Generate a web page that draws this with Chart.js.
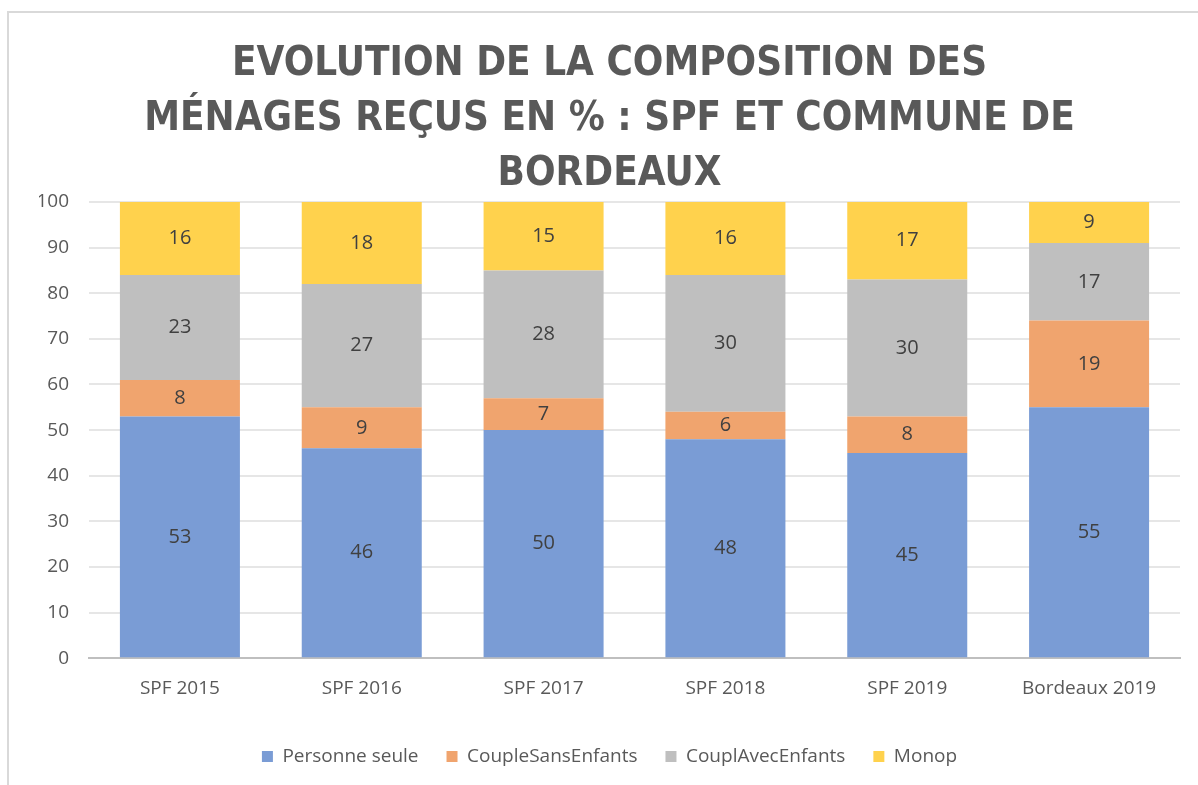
<!DOCTYPE html>
<html>
<head>
<meta charset="utf-8">
<script src="https://cdn.jsdelivr.net/npm/chart.js@4"></script>
<style>
    body { margin: 0; background: #fff; }
    #frame {
        position: absolute; left: 7px; top: 11px;
        width: 1191px; height: 774px;
        border-left: 2px solid #d9d9d9; border-top: 2px solid #d9d9d9;
        box-sizing: border-box;
    }
    #chart-box { position: absolute; left: 9px; top: 13px; width: 1189px; height: 772px; }
</style>
</head>
<body>
<div id="frame"></div>
<div id="chart-box"><canvas id="chart"></canvas></div>
<script>
const categories = ['SPF 2015', 'SPF 2016', 'SPF 2017', 'SPF 2018', 'SPF 2019', 'Bordeaux 2019'];
const personneSeule = [53, 46, 50, 48, 45, 55];
const coupleSansEnfants = [8, 9, 7, 6, 8, 19];
const couplAvecEnfants = [23, 27, 28, 30, 30, 17];
const monop = [16, 18, 15, 16, 17, 9];
const titleLines = ['EVOLUTION DE LA COMPOSITION DES', 'MÉNAGES REÇUS EN % : SPF ET COMMUNE DE', 'BORDEAUX'];

const textColor = '#595959';
const bodyFont = "'Open Sans', sans-serif";

// étiquettes de valeurs au centre de chaque segment
const barLabels = {
    id: 'barLabels',
    afterDatasetsDraw(chart) {
        const ctx = chart.ctx;
        ctx.save();
        ctx.font = "20px 'Open Sans', sans-serif";
        ctx.fillStyle = '#404040';
        ctx.textAlign = 'center';
        ctx.textBaseline = 'middle';
        chart.data.datasets.forEach((ds, i) => {
            chart.getDatasetMeta(i).data.forEach((bar, j) => {
                const c = bar.getCenterPoint();
                ctx.fillText(ds.data[j], c.x, c.y);
            });
        });
        ctx.restore();
    }
};

new Chart(document.getElementById('chart'), {
    type: 'bar',
    data: {
        labels: categories,
        datasets: [
            { label: 'Personne seule', data: personneSeule, backgroundColor: '#7a9cd5' },
            { label: 'CoupleSansEnfants', data: coupleSansEnfants, backgroundColor: '#f0a46e' },
            { label: 'CouplAvecEnfants', data: couplAvecEnfants, backgroundColor: '#bfbfbf' },
            { label: 'Monop', data: monop, backgroundColor: '#ffd24d' }
        ]
    },
    options: {
        responsive: true,
        maintainAspectRatio: false,
        animation: false,
        datasets: { bar: { categoryPercentage: 1, barPercentage: 0.66 } },
        layout: { padding: { left: 30, right: 18, bottom: 9 } },
        plugins: {
            title: {
                display: true,
                text: titleLines,
                color: textColor,
                font: { family: "'Liberation Sans Narrow', 'DejaVu Sans Condensed', sans-serif", size: 40, weight: 'bold', lineHeight: 1.375 },
                padding: { top: 24, bottom: 0 }
            },
            legend: {
                position: 'bottom',
                labels: {
                    color: textColor,
                    font: { family: bodyFont, size: 19 },
                    boxWidth: 11, boxHeight: 11,
                    padding: 28
                }
            },
            tooltip: { enabled: false }
        },
        scales: {
            x: {
                stacked: true,
                grid: { display: false },
                border: { color: '#bfbfbf', width: 2 },
                ticks: { color: textColor, font: { family: bodyFont, size: 19 }, padding: 11 },
                afterFit: (scale) => { scale.height += 8; }
            },
            y: {
                stacked: true,
                min: 0, max: 100,
                ticks: { stepSize: 10, color: textColor, font: { family: bodyFont, size: 19 }, padding: 20 },
                grid: { color: '#e6e6e6', lineWidth: 2, drawTicks: false },
                border: { display: false },
                afterFit: (scale) => { scale.width = 50; }
            }
        }
    },
    plugins: [barLabels]
});
</script>
</body>
</html>
